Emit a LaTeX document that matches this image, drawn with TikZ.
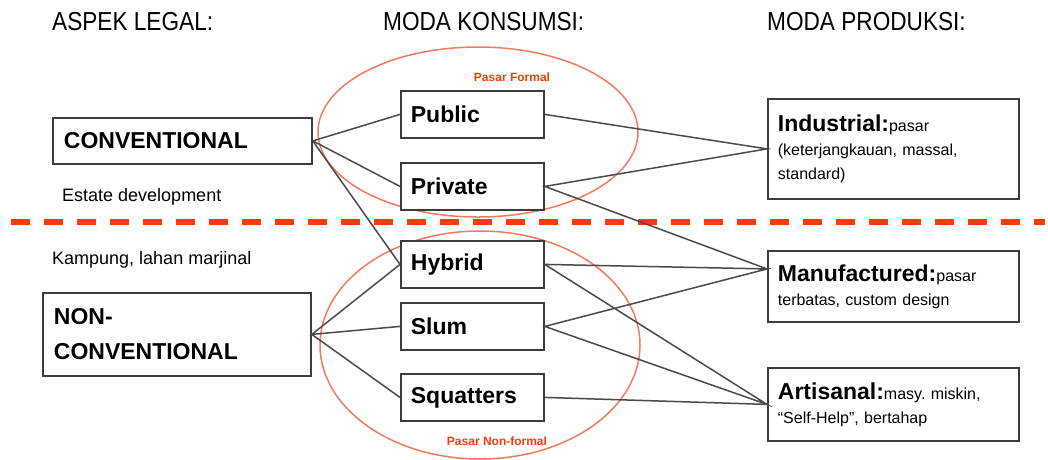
\documentclass[tikz,border=0pt]{standalone}
\usepackage{fontspec}
\setmainfont{Liberation Sans}
\newfontfamily\narrowfont[FakeStretch=0.87]{Liberation Sans}
\usetikzlibrary{positioning,calc}
\definecolor{dashred}{HTML}{FF3A0A}
\definecolor{ringred}{HTML}{F27A60}
\definecolor{boxgray}{HTML}{3C3C3C}
\definecolor{linegray}{HTML}{4A4A4A}
\newcommand\prodname[1]{{\fontsize{23}{24}\bfseries #1}}
\frenchspacing
\tikzset{
head/.style  = {font=\narrowfont\fontsize{26}{28}\selectfont, anchor=west, inner sep=0pt},
note/.style  = {font=\fontsize{18}{20}\selectfont, anchor=west, inner sep=0pt},
block/.style = {draw=boxgray, line width=1.8pt, fill=white, rectangle, anchor=north west,
                inner xsep=10pt, inner ysep=0pt, align=left},
legal/.style = {block, font=\bfseries\fontsize{23}{35}\selectfont},
mode/.style  = {block, text width=123pt, minimum height=47pt, font=\bfseries\fontsize{23}{25}\selectfont},
prod/.style  = {block, text width=231pt, font=\fontsize{16}{24}\selectfont},
ring/.style  = {draw=ringred, line width=1.5pt},
market/.style= {text=dashred, font=\bfseries\fontsize{12}{14}\selectfont, inner sep=0pt},
link/.style  = {draw=linegray, line width=1.5pt}
}
\begin{document}
\begin{tikzpicture}[x=1pt, y=-1pt]
  \useasboundingbox (0,0) rectangle (1048,459);

  % column titles
  \node [head] (thead1) at (52,22)  {ASPEK LEGAL:};
  \node [head] (thead2) at (383,22) {MODA KONSUMSI:};
  \node [head] (thead3) at (767,22) {MODA PRODUKSI:};

  % market rings
  \draw [ring] (478,132) ellipse [x radius=160pt, y radius=85pt];
  \draw [ring] (480,345) ellipse [x radius=160pt, y radius=114pt];
  \node [market] (formal)    at (512,77)  {Pasar Formal};
  \node [market] (nonformal) at (497,441) {Pasar Non-formal};

  % formal / informal border
  \draw [dashred, line width=6pt, dash pattern=on 19pt off 14pt] (11,222) -- (1045,222);

  \node [legal, text width=237pt, minimum height=46pt, inner xsep=11pt] (conv) at (52,117) {CONVENTIONAL};
  \node [legal, text width=246pt, minimum height=83pt, inner xsep=11pt] (nonconv) at (42,292) {NON-\\CONVENTIONAL};
  \node [note] (estate)  at (62,197) {Estate development};
  \node [note] (kampung) at (52,260) {Kampung, lahan marjinal};

  \node [mode] (public)  at (400,90)  {Public};
  \node [mode] (private) at (400,162) {Private};
  \node [mode] (hybrid)  at (400,240) {Hybrid};
  \node [mode] (slum)    at (400,302) {Slum};
  \node [mode] (squat)   at (400,373) {Squatters};

  \node [prod, minimum height=100pt] (indus) at (767,98)
        {\prodname{Industrial:}pasar\\(keterjangkauan, massal,\\standard)};
  \node [prod, minimum height=71pt] (manu) at (767,250)
        {\prodname{Manufactured:}pasar\\terbatas, custom design};
  \node [prod, minimum height=73pt] (arti) at (767,367)
        {\prodname{Artisanal:}masy. miskin,\\``Self-Help'', bertahap};
  \coordinate (manuin) at ($(manu.north west)!0.26!(manu.south west)$);

  \draw [link] (public.west) -- (conv.east) -- (private.west);
  \draw [link] (conv.east) -- (hybrid.west);
  \draw [link] (hybrid.west) -- (nonconv.east) -- (slum.west);
  \draw [link] (nonconv.east) -- (squat.west);

  \draw [link] (public.east) -- (indus.west) -- (private.east) -- (manuin);
  \draw [link] (hybrid.east) -- (manuin) -- (slum.east) -- (arti.west) -- (hybrid.east);
  \draw [link] (squat.east) -- (arti.west);
\end{tikzpicture}
\end{document}
